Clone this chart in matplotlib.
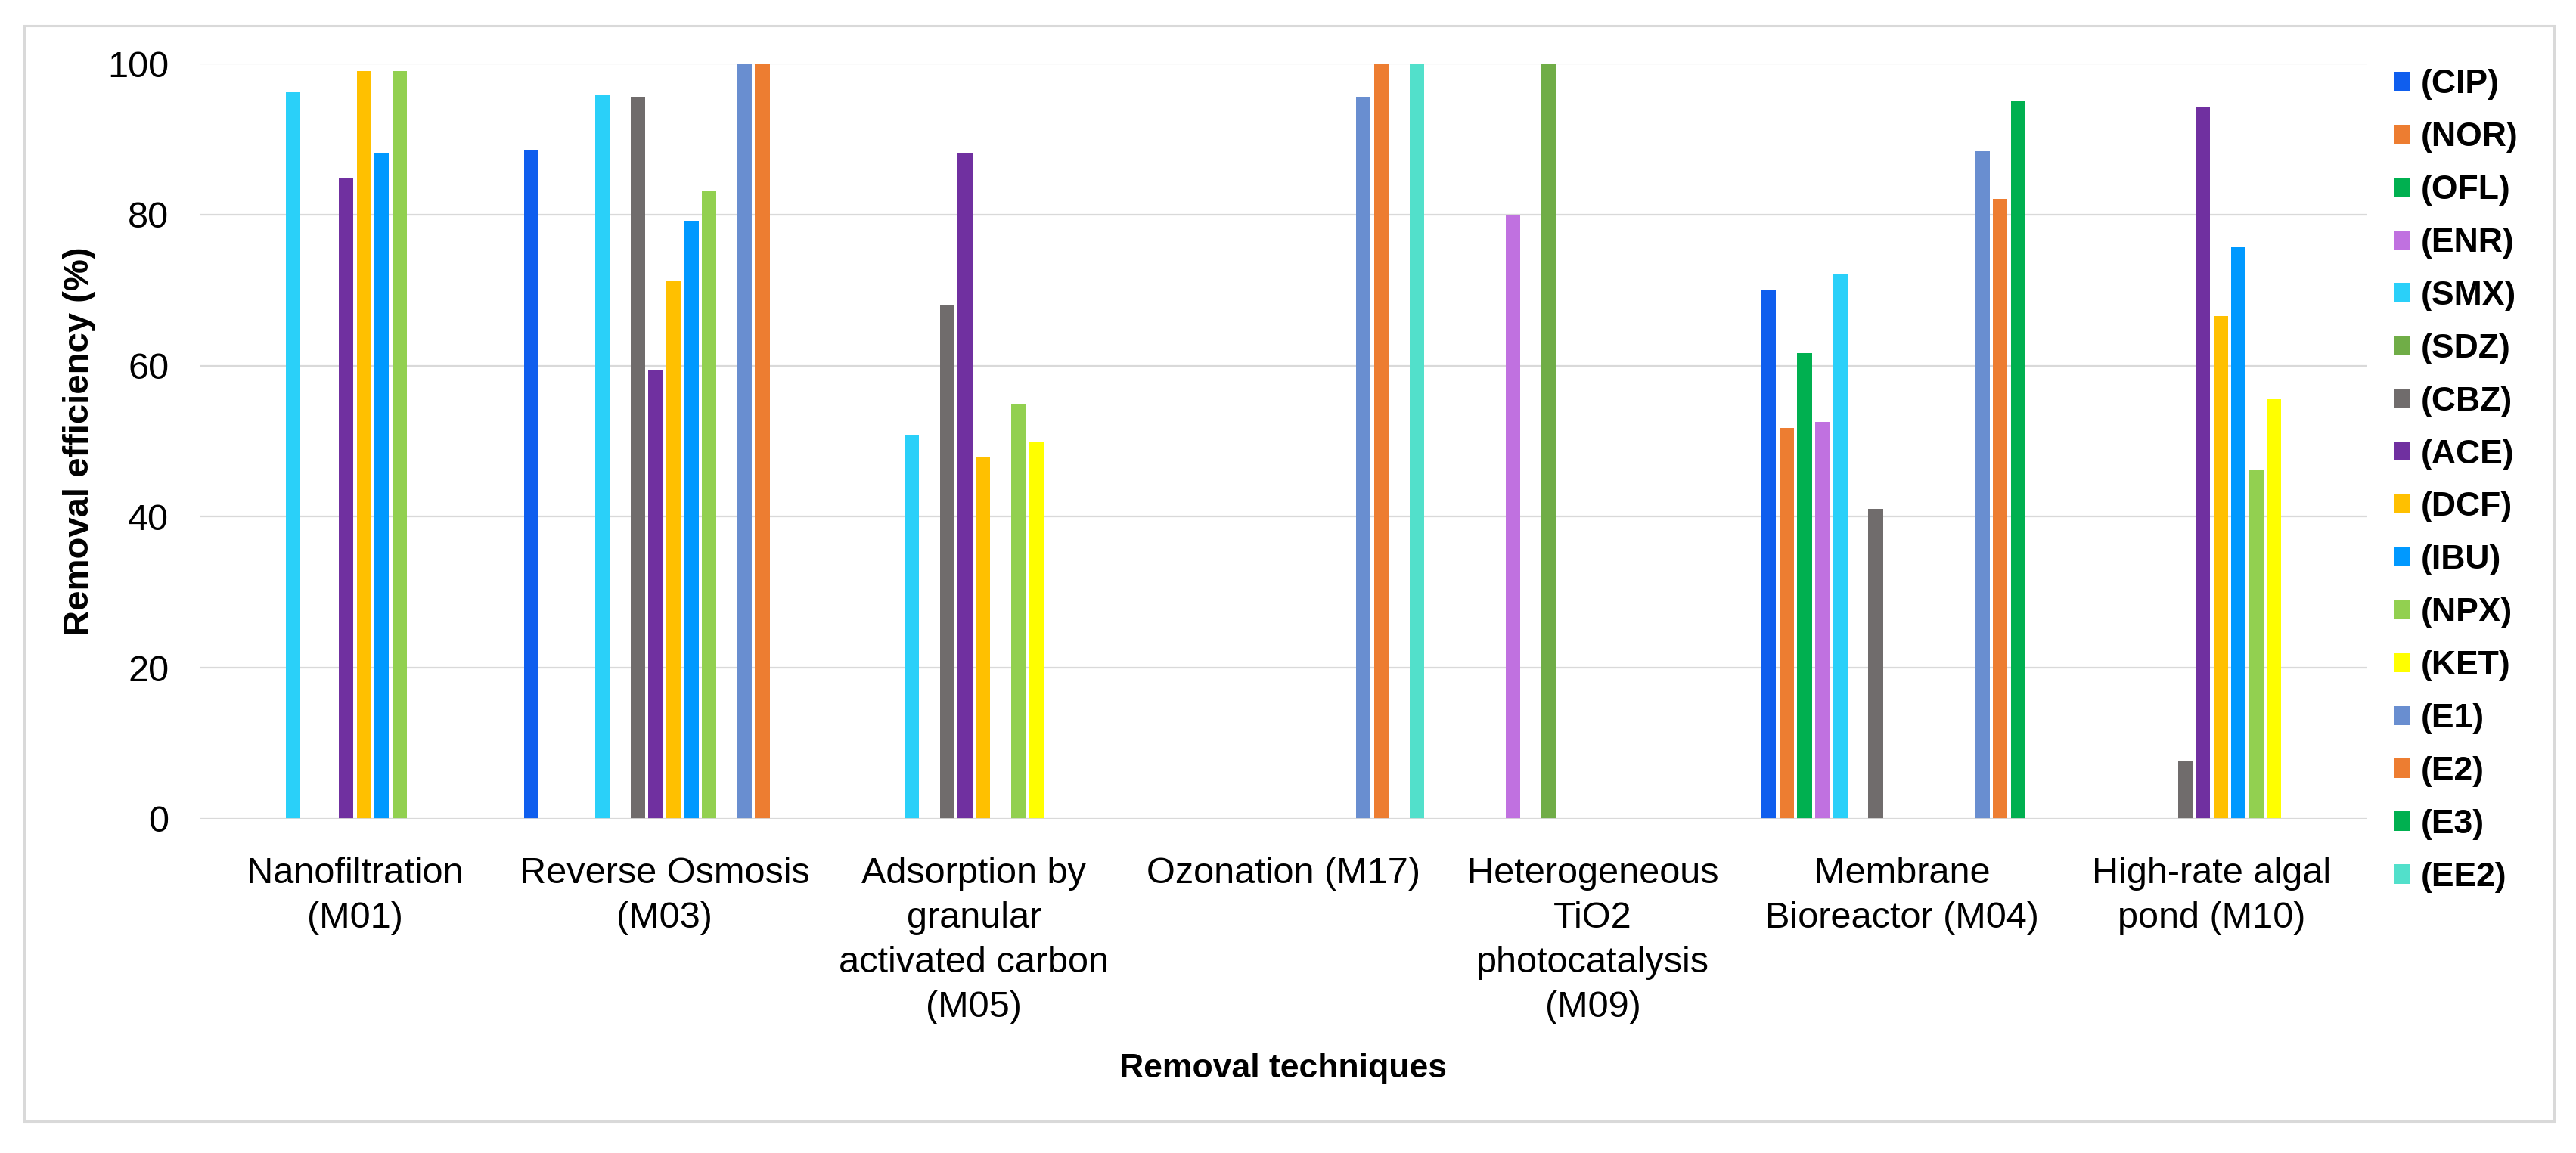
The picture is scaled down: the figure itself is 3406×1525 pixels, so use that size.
import numpy as np
import matplotlib
matplotlib.use("Agg")
import matplotlib.pyplot as plt
from matplotlib.patches import Rectangle

plt.rcParams['font.family'] = ['Liberation Sans', 'DejaVu Sans']

nan = np.nan

# categories (removal techniques)
techniques = [
    "Nanofiltration\n(M01)",
    "Reverse Osmosis\n(M03)",
    "Adsorption by\ngranular\nactivated carbon\n(M05)",
    "Ozonation (M17)",
    "Heterogeneous\nTiO2\nphotocatalysis\n(M09)",
    "Membrane\nBioreactor (M04)",
    "High-rate algal\npond (M10)",
]

# removal efficiency (%) per compound, one value per technique
CIP = [nan, 88.6, nan, nan, nan, 70.1, nan]
NOR = [nan, nan, nan, nan, nan, 51.8, nan]
OFL = [nan, nan, nan, nan, nan, 61.7, nan]
ENR = [nan, nan, nan, nan, 80.0, 52.6, nan]
SMX = [96.2, 95.9, 50.9, nan, nan, 72.2, nan]
SDZ = [nan, nan, nan, nan, 100, nan, nan]
CBZ = [nan, 95.6, 68.0, nan, nan, 41.0, 7.6]
ACE = [84.9, 59.4, 88.1, nan, nan, nan, 94.3]
DCF = [99.0, 71.3, 47.9, nan, nan, nan, 66.6]
IBU = [88.1, 79.2, nan, nan, nan, nan, 75.7]
NPX = [99.0, 83.1, 54.9, nan, nan, nan, 46.2]
KET = [nan, nan, 50.0, nan, nan, nan, 55.6]
E1 = [nan, 100, nan, 95.6, nan, 88.4, nan]
E2 = [nan, 100, nan, 100, nan, 82.1, nan]
E3 = [nan, nan, nan, nan, nan, 95.1, nan]
EE2 = [nan, nan, nan, 100, nan, nan, nan]

series_names = ["(CIP)", "(NOR)", "(OFL)", "(ENR)", "(SMX)", "(SDZ)", "(CBZ)", "(ACE)",
                "(DCF)", "(IBU)", "(NPX)", "(KET)", "(E1)", "(E2)", "(E3)", "(EE2)"]
series_values = [CIP, NOR, OFL, ENR, SMX, SDZ, CBZ, ACE, DCF, IBU, NPX, KET, E1, E2, E3, EE2]
colors = ["#0f5eee", "#ed7d31", "#00b050", "#c071e0", "#2ad0f9", "#70ad47", "#706c6c", "#7030a0",
          "#ffc000", "#0099ff", "#92d050", "#ffff00", "#698ed0", "#ed7d31", "#00b050", "#52e0cb"]

W, H = 3406, 1525
fig = plt.figure(figsize=(W / 100, H / 100), dpi=100)
ax = fig.add_axes([265 / W, 1 - 1083 / H, (3129 - 265) / W, (1083 - 84) / H])

x = np.arange(len(techniques))
pitch = 0.0575
n = len(series_values)
for k, (name, vals, c) in enumerate(zip(series_names, series_values, colors)):
    ax.bar(x + (k - (n - 1) / 2) * pitch, vals, width=0.047, color=c, label=name, zorder=3)

ax.set_xlim(-0.5, len(techniques) - 0.5)
ax.set_ylim(0, 100)
ax.set_yticks(range(0, 101, 20))
ax.set_xticks(x)
ax.set_xticklabels(techniques, fontsize=35, linespacing=1.4)
ax.tick_params(axis='y', labelsize=35, length=0, pad=30)
ax.tick_params(axis='x', length=0, pad=36)
ax.grid(axis='y', color='#d9d9d9', linewidth=1.6, zorder=0)
for s in ax.spines.values():
    s.set_visible(False)
ax.axhline(0, color='#d9d9d9', linewidth=2, zorder=4)

fig.text(105 / W, 1 - 584 / H, "Removal efficiency (%)", rotation=90, ha='center', va='center',
         fontsize=34, fontweight='bold')
fig.text(1696 / W, 1 - 1413 / H, "Removal techniques", ha='center', va='center',
         fontsize=32, fontweight='bold')

ax.legend(loc='center left', bbox_to_anchor=(3165 / W, 1 - 636 / H), bbox_transform=fig.transFigure,
          frameon=False, prop={'size': 32, 'weight': 'bold'}, handlelength=0.5, handleheight=0.5,
          handletextpad=0.3, labelspacing=0.65, borderpad=0, borderaxespad=0)

fig.patches.append(Rectangle((32 / W, 1 - 1483 / H), (3377 - 32) / W, (1483 - 34) / H,
                             transform=fig.transFigure, fill=False, edgecolor='#d9d9d9', linewidth=2.2))

fig.savefig("out.png", dpi=100)
